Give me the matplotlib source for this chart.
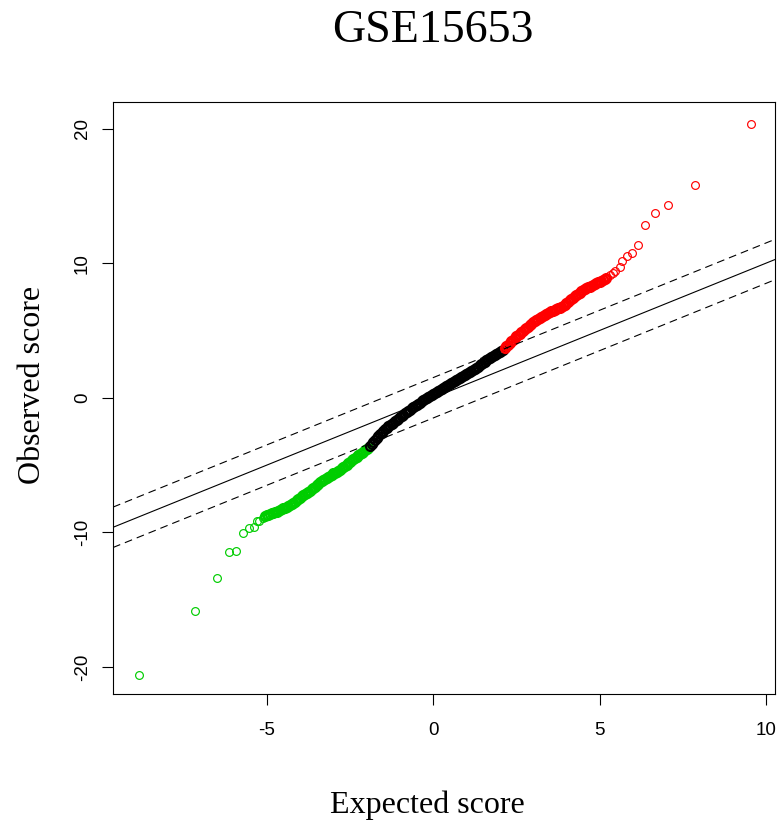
import matplotlib
matplotlib.use("Agg")
import matplotlib.pyplot as plt

# SAM plot: expected vs observed score, green = significant down, red = significant up
title = "GSE15653"
delta = 1.5

# isolated points at the ends
green_tail_exp = [-8.85, -7.17, -6.50, -6.14, -5.92, -5.70, -5.53, -5.38, -5.28, -5.24, -5.12]
green_tail_obs = [-20.60, -15.85, -13.40, -11.47, -11.37, -10.05, -9.65, -9.58, -9.18, -9.13, -8.96]
red_tail_exp = [5.32, 5.40, 5.47, 5.60, 5.67, 5.82, 5.97, 6.15, 6.37, 6.66, 7.07, 7.86, 9.55]
red_tail_obs = [9.15, 9.25, 9.40, 9.70, 10.15, 10.55, 10.75, 11.34, 12.86, 13.75, 14.30, 15.80, 20.30]

# dense parts of the curve
green_exp = [-5.05, -5.00, -4.95, -4.90, -4.85, -4.80, -4.75, -4.70, -4.65, -4.60, -4.55,
             -4.50, -4.45, -4.40, -4.35, -4.30, -4.25, -4.20, -4.15, -4.10, -4.05, -4.00,
             -3.95, -3.90, -3.85, -3.80, -3.75, -3.70, -3.65, -3.60, -3.55, -3.50, -3.45,
             -3.40, -3.35, -3.30, -3.25, -3.20, -3.15, -3.10, -3.05, -3.00, -2.95, -2.90,
             -2.85, -2.80, -2.75, -2.70, -2.65, -2.60, -2.55, -2.50, -2.45, -2.40, -2.35,
             -2.30, -2.25, -2.20, -2.15, -2.10, -2.05, -2.00, -1.95]
green_obs = [-8.81, -8.74, -8.68, -8.63, -8.59, -8.55, -8.51, -8.47, -8.41, -8.35, -8.29,
             -8.22, -8.16, -8.09, -8.03, -7.96, -7.90, -7.81, -7.71, -7.61, -7.51, -7.41,
             -7.31, -7.23, -7.15, -7.07, -6.99, -6.91, -6.81, -6.71, -6.60, -6.50, -6.39,
             -6.29, -6.20, -6.12, -6.04, -5.95, -5.87, -5.79, -5.70, -5.62, -5.55, -5.48,
             -5.41, -5.33, -5.25, -5.16, -5.06, -4.96, -4.85, -4.75, -4.65, -4.56, -4.46,
             -4.37, -4.27, -4.18, -4.09, -4.00, -3.90, -3.81, -3.72]

black_exp = [-1.90, -1.85, -1.80, -1.75, -1.70, -1.65, -1.60, -1.55, -1.50, -1.45, -1.40,
             -1.35, -1.30, -1.25, -1.20, -1.15, -1.10, -1.05, -1.00, -0.95, -0.90, -0.85,
             -0.80, -0.75, -0.70, -0.65, -0.60, -0.55, -0.50, -0.45, -0.40, -0.35, -0.30,
             -0.25, -0.20, -0.15, -0.10, -0.05, 0.00, 0.05, 0.10, 0.15, 0.20, 0.25, 0.30,
             0.35, 0.40, 0.45, 0.50, 0.55, 0.60, 0.65, 0.70, 0.75, 0.80, 0.85, 0.90, 0.95,
             1.00, 1.05, 1.10, 1.15, 1.20, 1.25, 1.30, 1.35, 1.40, 1.45, 1.50, 1.55, 1.60,
             1.65, 1.70, 1.75, 1.80, 1.85, 1.90, 1.95, 2.00, 2.05, 2.10]
black_obs = [-3.55, -3.42, -3.28, -3.14, -3.00, -2.86, -2.72, -2.58, -2.44, -2.33, -2.23,
             -2.13, -2.03, -1.94, -1.84, -1.74, -1.64, -1.55, -1.45, -1.35, -1.26, -1.16,
             -1.06, -0.97, -0.88, -0.79, -0.71, -0.62, -0.53, -0.44, -0.36, -0.27, -0.18,
             -0.11, -0.03, 0.04, 0.12, 0.19, 0.27, 0.34, 0.41, 0.49, 0.56, 0.63, 0.71,
             0.78, 0.86, 0.93, 1.01, 1.08, 1.16, 1.23, 1.31, 1.38, 1.45, 1.53, 1.60, 1.67,
             1.75, 1.82, 1.90, 1.97, 2.05, 2.13, 2.22, 2.31, 2.40, 2.50, 2.59, 2.69, 2.79,
             2.87, 2.94, 3.02, 3.09, 3.17, 3.24, 3.32, 3.39, 3.47, 3.55]

red_exp = [2.15, 2.20, 2.25, 2.30, 2.35, 2.40, 2.45, 2.50, 2.55, 2.60, 2.65, 2.70, 2.75,
           2.80, 2.85, 2.90, 2.95, 3.00, 3.05, 3.10, 3.15, 3.20, 3.25, 3.30, 3.35, 3.40,
           3.45, 3.50, 3.55, 3.60, 3.65, 3.70, 3.75, 3.80, 3.85, 3.90, 3.95, 4.00, 4.05,
           4.10, 4.15, 4.20, 4.25, 4.30, 4.35, 4.40, 4.45, 4.50, 4.55, 4.60, 4.65, 4.70,
           4.75, 4.80, 4.85, 4.90, 4.95, 5.00, 5.05, 5.10, 5.15, 5.20]
red_obs = [3.70, 3.83, 3.95, 4.08, 4.20, 4.33, 4.45, 4.56, 4.66, 4.77, 4.87, 4.98, 5.08,
           5.19, 5.29, 5.40, 5.50, 5.60, 5.69, 5.78, 5.86, 5.94, 6.03, 6.11, 6.18, 6.24,
           6.30, 6.36, 6.42, 6.48, 6.53, 6.58, 6.64, 6.69, 6.74, 6.80, 6.90, 7.01, 7.12,
           7.23, 7.33, 7.43, 7.53, 7.62, 7.72, 7.82, 7.92, 8.01, 8.08, 8.14, 8.20, 8.26,
           8.32, 8.39, 8.45, 8.51, 8.57, 8.63, 8.69, 8.76, 8.83, 8.90]

x_ticks = [-5, 0, 5, 10]
y_ticks = [-20, -10, 0, 10, 20]

GREEN = "#00cd00"

fig = plt.figure(figsize=(7.83, 8.26), dpi=100)
ax = fig.add_axes([113 / 783, 1 - 694 / 826, 662 / 783, 592 / 826])

ring = dict(linestyle="none", marker="o", markersize=5.6, markeredgewidth=0.85,
            markerfacecolor="none")
# thousands of overlapping rings in the original -> thick ring so the band reads solid
band = dict(linestyle="none", marker="o", markersize=6.4, markeredgewidth=1.6,
            markerfacecolor="none")

ax.plot(green_tail_exp, green_tail_obs, markeredgecolor=GREEN, **ring)
ax.plot(green_exp, green_obs, markeredgecolor=GREEN, **band)
ax.plot(black_exp, black_obs, markeredgecolor="black", **band)
ax.plot(red_exp, red_obs, markeredgecolor="red", **band)
ax.plot(red_tail_exp, red_tail_obs, markeredgecolor="red", **ring)

xl = (-9.62, 10.27)
ax.set_xlim(xl)
ax.set_ylim(-22.0, 21.97)
ax.plot(xl, xl, color="black", lw=0.8)
ax.plot(xl, [v + delta for v in xl], color="black", lw=0.8, linestyle=(0, (7, 4.5)))
ax.plot(xl, [v - delta for v in xl], color="black", lw=0.8, linestyle=(0, (7, 4.5)))

ax.set_xticks(x_ticks)
ax.set_yticks(y_ticks)
ax.set_xticklabels([str(t) for t in x_ticks], family="Liberation Sans", fontsize=13.5)
ax.set_yticklabels([str(t) for t in y_ticks], family="Liberation Sans", fontsize=13.5,
                   rotation=90, va="center")
ax.tick_params(direction="out", length=8, width=0.8)
ax.tick_params(axis="x", pad=12)
ax.tick_params(axis="y", pad=8)
for s in ax.spines.values():
    s.set_linewidth(0.8)

fig.text(433 / 783, 1 - 31 / 826, title, family="Liberation Serif", fontsize=33,
         ha="center", va="center")
fig.text(427 / 783, 1 - 805 / 826, "Expected score", family="Liberation Serif",
         fontsize=23, ha="center", va="center")
fig.text(33 / 783, 1 - 385 / 826, "Observed score", family="Liberation Serif",
         fontsize=23, ha="center", va="center", rotation=90)

fig.savefig("out.png", dpi=100)
